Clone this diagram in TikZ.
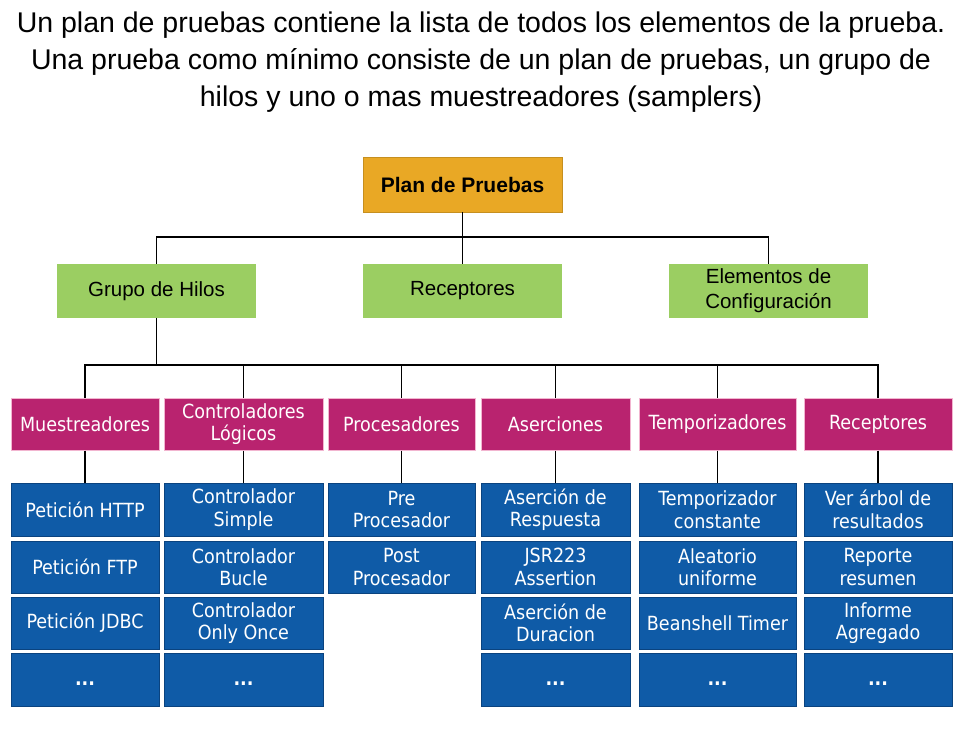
\documentclass[tikz,border=0pt]{standalone}
\usepackage{fontspec}
\setmainfont{Liberation Sans}
\newfontfamily\boxfont{DejaVu Sans Condensed}
\definecolor{planorange}{HTML}{E9A825}
\definecolor{lvlgreen}{HTML}{9BCE62}
\definecolor{catmag}{HTML}{B9236F}
\definecolor{catborder}{HTML}{F2B5D0}
\definecolor{itemblue}{HTML}{0F5BA7}
\definecolor{itemborder}{HTML}{0A437F}
\newcommand{\moredots}{\smash{\raisebox{-6pt}{\bfseries ...}}}
\begin{document}
\begin{tikzpicture}[x=1pt,y=-1pt,
  conn/.style={draw=black,line width=1.7pt},
  planbox/.style={fill=planorange,draw=planorange!85!black,line width=0.6pt,inner sep=0pt,
     minimum width=199pt,minimum height=55pt,align=center,font=\fontsize{21}{25}\selectfont\bfseries},
  lvlbox/.style={fill=lvlgreen,inner sep=0pt,minimum width=199pt,minimum height=54pt,
     align=center,font=\fontsize{20.5}{25}\selectfont},
  catbox/.style={fill=catmag,draw=catborder,line width=1pt,inner sep=0pt,minimum height=52pt,
     align=center,text=white,font=\boxfont\fontsize{19.5}{22}\selectfont},
  itembox/.style={fill=itemblue,draw=itemborder,line width=0.8pt,inner sep=0pt,
     align=center,text=white,font=\boxfont\fontsize{19.5}{22.5}\selectfont},
  r1/.style={itembox,minimum height=53pt},
  r2/.style={itembox,minimum height=52pt},
  w1/.style={minimum width=148pt},
  w2/.style={minimum width=159pt},
  w3/.style={minimum width=147pt},
  w4/.style={minimum width=149pt},
  w5/.style={minimum width=157pt},
  w6/.style={minimum width=148pt},
]
\useasboundingbox (0,0) rectangle (968,733);

\node[align=center,font=\fontsize{28.5}{37}\selectfont] (title) at (481,62)
  {Un plan de pruebas contiene la lista de todos los elementos de la prueba.\\
   Una prueba como mínimo consiste de un plan de pruebas, un grupo de\\
   hilos y uno o mas muestreadores (samplers)};

% level 1 and 2
\node[planbox] (plan) at (462.5,184.5) {Plan de Pruebas};
\node[lvlbox] (grupo) at (156.5,291) {Grupo de Hilos};
\node[lvlbox] (recep) at (462.5,291) {Receptores};
\node[lvlbox] (elem) at (768.5,291) {Elementos de\\Configuración};

\coordinate (bus1) at (462.5,237);
\draw[conn] (plan.south) -- (bus1);
\draw[conn] (grupo.north) |- (bus1) -| (elem.north);
\draw[conn] (bus1) -- (recep.north);

% categories
\node[catbox,w1] (c1) at (85,424) {Muestreadores};
\node[catbox,w2] (c2) at (243.5,424) {Controladores\\Lógicos};
\node[catbox,w3] (c3) at (401.5,424) {Procesadores};
\node[catbox,w4] (c4) at (555.5,424) {Aserciones};
\node[catbox,w5] (c5) at (717.5,424) {Temporizadores};
\node[catbox,w6] (c6) at (878,424) {Receptores};

\coordinate (bus2) at (156.5,365);
\draw[conn] (grupo.south) -- (bus2);
\draw[conn] (c1.north) |- (bus2) -| (c6.north);
\foreach \c in {c2,c3,c4,c5} \draw[conn] (\c.north) -- (\c.north |- bus2);

% items column 1
\node[r1,w1] (i11) at (85,509.5) {Petición HTTP};
\node[r2,w1] (i12) at (85,567) {Petición FTP};
\node[r2,w1] (i13) at (85,623) {Petición JDBC};
\node[r1,w1] (i14) at (85,679.5) {\moredots};
% column 2
\node[r1,w2] (i21) at (243.5,509.5) {Controlador\\Simple};
\node[r2,w2] (i22) at (243.5,567) {Controlador\\Bucle};
\node[r2,w2] (i23) at (243.5,623) {Controlador\\Only Once};
\node[r1,w2] (i24) at (243.5,679.5) {\moredots};
% column 3
\node[r1,w3] (i31) at (401.5,509.5) {Pre\\Procesador};
\node[r2,w3] (i32) at (401.5,567) {Post\\Procesador};
% column 4
\node[r1,w4] (i41) at (555.5,509.5) {Aserción de\\Respuesta};
\node[r2,w4] (i42) at (555.5,567) {JSR223\\Assertion};
\node[r2,w4] (i43) at (555.5,623) {Aserción de\\Duracion};
\node[r1,w4] (i44) at (555.5,679.5) {\moredots};
% column 5
\node[r1,w5] (i51) at (717.5,509.5) {Temporizador\\constante};
\node[r2,w5] (i52) at (717.5,567) {Aleatorio\\uniforme};
\node[r2,w5] (i53) at (717.5,623) {Beanshell Timer};
\node[r1,w5] (i54) at (717.5,679.5) {\moredots};
% column 6
\node[r1,w6] (i61) at (878,509.5) {Ver árbol de\\resultados};
\node[r2,w6] (i62) at (878,567) {Reporte\\resumen};
\node[r2,w6] (i63) at (878,623) {Informe\\Agregado};
\node[r1,w6] (i64) at (878,679.5) {\moredots};

\foreach \n in {1,...,6} \draw[conn] (c\n.south) -- (i\n1.north);
\end{tikzpicture}
\end{document}
